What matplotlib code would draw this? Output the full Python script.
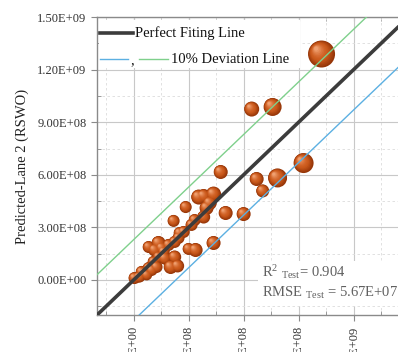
import numpy as np
import matplotlib
matplotlib.use('Agg')
import matplotlib.pyplot as plt
from matplotlib.patches import Rectangle
from matplotlib.lines import Line2D
from matplotlib.colors import to_rgb
from matplotlib.ticker import MultipleLocator

plt.rcParams['font.family'] = ['Liberation Serif', 'DejaVu Serif']
plt.rcParams['mathtext.fontset'] = 'custom'
plt.rcParams['mathtext.rm'] = 'Liberation Serif'
plt.rcParams['mathtext.it'] = 'Liberation Serif:italic'

# ── Data (1e8 units) ──────────────────────────────────────────────────────────
actual = [10.25, 6.44, 7.58, 9.27, 7.85, 6.71, 7.04, 4.75, 4.36, 3.82,
          3.55, 2.84, 2.18, 5.02, 6.00, 4.36, 3.38, 3.00, 4.15, 3.98,
          3.33, 3.16, 2.73, 2.45, 1.36, 1.15, 1.69, 2.24, 2.02, 2.40,
          1.25, 0.98, 0.44, 0.05, 0.33, 0.71, 2.51, 2.24, 1.91, 1.64,
          1.36, 1.09, 0.82, 0.55, 0.27, 1.53, 0.82, 3.82]
predicted = [12.89, 9.75, 9.87, 6.67, 5.82, 5.76, 5.08, 6.16, 4.90, 4.79,
             4.73, 4.16, 3.37, 3.82, 3.76, 2.11, 1.71, 1.77, 4.39, 4.11,
             3.42, 3.14, 2.74, 2.40, 2.11, 1.71, 1.25, 1.31, 0.74, 0.80,
             0.74, 0.57, 0.46, 0.11, 0.17, 0.29, 2.68, 2.17, 2.00, 1.60,
             1.31, 1.03, 0.68, 0.40, 0.17, 1.83, 1.88, 3.59]
bubble = [27, 15, 18, 20, 19, 14, 13, 14, 15, 14,
          15, 12, 12, 14, 14, 14, 14, 12, 14, 14,
          12, 12, 12, 12, 14, 13, 13, 13, 14, 13,
          12, 12, 12, 12, 11, 11, 12, 12, 12, 12,
          12, 12, 12, 12, 11, 12, 12, 13]

actual = np.array(actual) * 1e8
predicted = np.array(predicted) * 1e8
bubble = np.array(bubble, dtype=float)

deviation = 2.3e8
r2_test = 0.904
rmse_test = 5.67e7

# ── Figure ────────────────────────────────────────────────────────────────────
fig = plt.figure(figsize=(3.98, 3.52), dpi=100)
ax = fig.add_axes([0.2437, 0.105, 0.783, 0.8466])
ax.set_xlim(-2e8, 1.5e9)
ax.set_ylim(-2e8, 1.5e9)

for sp in ax.spines.values():
    sp.set_color('#8a8a8a')
    sp.set_linewidth(1.0)

ax.xaxis.set_major_locator(MultipleLocator(3e8))
ax.yaxis.set_major_locator(MultipleLocator(3e8))
ax.xaxis.set_minor_locator(MultipleLocator(1.5e8))
ax.yaxis.set_minor_locator(MultipleLocator(1.5e8))
ax.xaxis.set_major_formatter(lambda v, p: f'{v:.2E}')
ax.yaxis.set_major_formatter(lambda v, p: f'{v:.2E}')
ax.tick_params(which='major', direction='out', length=4, color='#8a8a8a',
               labelsize=9, labelcolor='#333333')
ax.tick_params(which='minor', direction='in', length=3, color='#8a8a8a')
ax.tick_params(axis='x', which='major', labelrotation=90)

ax.grid(which='major', color='#c8c8c8', lw=0.8, ls='-', zorder=0)
ax.grid(which='minor', color='#dcdcdc', lw=0.6, ls=(0, (3, 3)), zorder=0)
ax.set_axisbelow(True)

# inward ticks on top and right
for sec in (ax.secondary_xaxis('top'), ax.secondary_yaxis('right')):
    sec.set_ticks(np.arange(0, 1.51e9, 3e8))
    sec.set_ticks(np.arange(-1.5e8, 1.51e9, 3e8), minor=True)
    sec.tick_params(which='both', direction='in', length=3, color='#8a8a8a',
                    labelleft=False, labelright=False, labeltop=False, labelbottom=False)
    for sp in sec.spines.values():
        sp.set_visible(False)

ax.set_ylabel('Predicted-Lane 2 (RSWO)', fontsize=10.5, color='#222222', labelpad=6)

# ── Shaded spheres ────────────────────────────────────────────────────────────
rim = np.array(to_rgb('#963608'))
mid = np.array(to_rgb('#cc5a1c'))
hi = np.array(to_rgb('#f0a070'))
fig.canvas.draw()
disp = ax.transData.transform(np.column_stack([actual, predicted]))
n_layers = 12
for i in range(n_layers):
    t = i / (n_layers - 1)
    frac = 1 - 0.85 * t
    if t < 0.4:
        col = rim + (mid - rim) * (t / 0.4)
    else:
        col = mid + (hi - mid) * ((t - 0.4) / 0.6) ** 1.5
    shift = 0.2 * t * bubble
    pts = disp + np.column_stack([-shift, shift])
    xy = ax.transData.inverted().transform(pts)
    ax.scatter(xy[:, 0], xy[:, 1], s=(bubble * frac * 0.72) ** 2,
               color=col, edgecolors='none', zorder=3 + i * 0.01)

# ── Reference lines ───────────────────────────────────────────────────────────
xl = np.array([-2e8, 1.5e9])
ax.plot(xl, xl, color='#3c3c3c', lw=2.6, zorder=5, solid_capstyle='butt')
ax.plot(xl, xl + deviation, color='#7fd08c', lw=1.0, zorder=5)
ax.plot(xl, xl - deviation, color='#5cb0e2', lw=1.0, zorder=5)

# ── Legend ────────────────────────────────────────────────────────────────────
ax.add_patch(Rectangle((0.006, 0.829), 0.645, 0.16, transform=ax.transAxes,
                       facecolor='white', edgecolor='none', zorder=6))
ax.add_line(Line2D([0.01, 0.115], [0.946, 0.946], transform=ax.transAxes,
                   color='#3c3c3c', lw=2.6, zorder=7))
ax.text(0.122, 0.946, 'Perfect Fiting Line', transform=ax.transAxes,
        fontsize=10.5, va='center', ha='left', color='#111111', zorder=7)
ax.add_line(Line2D([0.01, 0.10], [0.859, 0.859], transform=ax.transAxes,
                   color='#5cb0e2', lw=1.0, zorder=7))
ax.text(0.106, 0.852, ',', transform=ax.transAxes, fontsize=10.5,
        va='center', ha='left', color='#111111', zorder=7)
ax.add_line(Line2D([0.135, 0.228], [0.859, 0.859], transform=ax.transAxes,
                   color='#7fd08c', lw=1.0, zorder=7))
ax.text(0.237, 0.859, '10% Deviation Line', transform=ax.transAxes,
        fontsize=10.5, va='center', ha='left', color='#111111', zorder=7)

# ── Metrics box ───────────────────────────────────────────────────────────────
ax.add_patch(Rectangle((0.517, 0.03), 0.6, 0.15, transform=ax.transAxes,
                       facecolor='white', edgecolor='none', zorder=6))
ax.text(0.53, 0.144, r'R$^{2}$ $_{\mathrm{Test}}$= ' + f'{r2_test:.3f}',
        transform=ax.transAxes, fontsize=10.5, va='center', ha='left',
        color='#606060', zorder=7)
ax.text(0.53, 0.074, r'RMSE $_{\mathrm{Test}}$ = ' + f'{rmse_test:.2E}',
        transform=ax.transAxes, fontsize=10.5, va='center', ha='left',
        color='#606060', zorder=7)

fig.savefig('out.png', dpi=100)
